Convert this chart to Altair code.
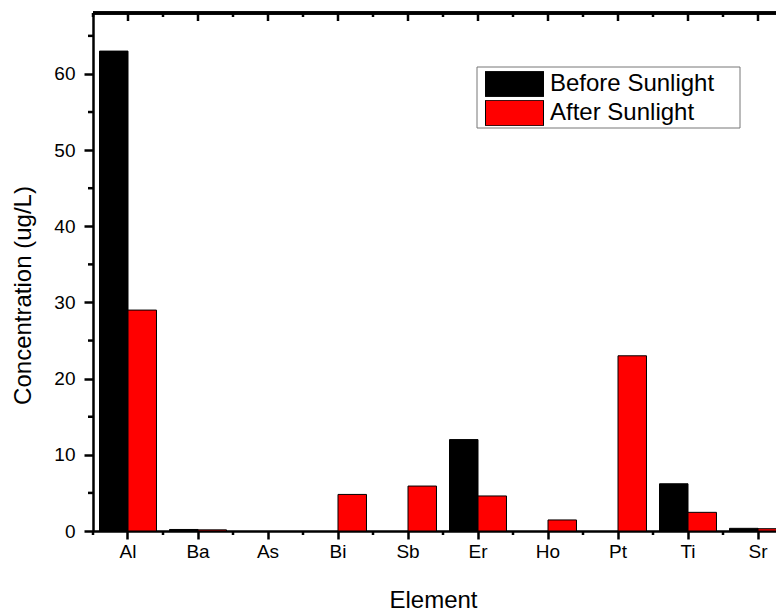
import altair as alt
import pandas as pd

elements = ["Al", "Ba", "As", "Bi", "Sb", "Er", "Ho", "Pt", "Ti", "Sr"]
before_sunlight = [63.0, 0.2, 0.0, 0.0, 0.0, 12.0, 0.0, 0.0, 6.2, 0.35]
after_sunlight = [29.0, 0.15, 0.0, 4.8, 5.9, 4.6, 1.45, 23.0, 2.45, 0.3]
series_names = ["Before Sunlight", "After Sunlight"]
series_colors = ["#000000", "#FF0000"]
y_major = [0, 10, 20, 30, 40, 50, 60]
y_minor = [5, 15, 25, 35, 45, 55, 65]

rows = []
for i, el in enumerate(elements):
    rows.append({"Element": el, "Series": series_names[0], "Value": before_sunlight[i]})
    rows.append({"Element": el, "Series": series_names[1], "Value": after_sunlight[i]})
df = pd.DataFrame(rows)
df_el = pd.DataFrame({"Element": elements})
df_major = pd.DataFrame({"Value": y_major})
df_minor = pd.DataFrame({"Value": y_minor})

FULL_W = 700   # full plot width (right part is cut off by the page edge)
W, H = 683, 518
FONT = "Liberation Sans"
LEG_X, LEG_Y, LEG_W, LEG_H = 384, 54, 263, 61

x_scale = alt.Scale(paddingInner=0.186, paddingOuter=0.093, range=[0, FULL_W])
x_enc = alt.X(
    "Element:N",
    sort=elements,
    scale=x_scale,
    axis=alt.Axis(
        title="Element", labelAngle=0, labelFontSize=19, labelPadding=3,
        labelColor="black", tickSize=8, tickWidth=2.5, tickColor="black",
        domainWidth=2.5, domainColor="black", titleFontSize=24,
        titleFontWeight="normal", titleColor="black", titleX=340, titleY=76,
        titleBaseline="alphabetic", grid=False,
    ),
)
y_scale = alt.Scale(domain=[0, 68], nice=False)
y_enc = alt.Y(
    "Value:Q",
    scale=y_scale,
    axis=alt.Axis(
        title="Concentration (ug/L)", values=y_major, labelFontSize=19,
        labelPadding=9, labelColor="black", tickSize=9, tickWidth=2.5,
        tickColor="black", domainWidth=2.5, domainColor="black",
        titleFontSize=24, titleFontWeight="normal", titleColor="black",
        titleX=-58, titleY=282, grid=False,
    ),
)

legend_box = alt.Chart(df_el.head(1)).mark_rect(
    fill="white", stroke="#777777", strokeWidth=1
).encode(
    x=alt.value(LEG_X), x2=alt.value(LEG_X + LEG_W),
    y=alt.value(LEG_Y), y2=alt.value(LEG_Y + LEG_H),
)

bars = alt.Chart(df).mark_bar(stroke="black", strokeWidth=1).encode(
    x=x_enc,
    xOffset=alt.XOffset("Series:N", sort=series_names),
    y=y_enc,
    color=alt.Color(
        "Series:N",
        scale=alt.Scale(domain=series_names, range=series_colors),
        legend=alt.Legend(
            title=None, orient="none", legendX=LEG_X, legendY=LEG_Y,
            direction="vertical", strokeColor="transparent",
            padding=4, symbolType="M-1,-0.44L1,-0.44L1,0.44L-1,0.44Z",
            symbolSize=3364, symbolStrokeColor="black", symbolStrokeWidth=1,
            symbolOpacity=1, clipHeight=26, rowPadding=3, labelFontSize=24,
            labelOffset=6, symbolOffset=4, labelColor="black", labelLimit=400,
        ),
    ),
).transform_filter("datum.Value > 0")

rule_style = dict(color="black", strokeWidth=2.5)
xr = alt.X("Element:N", sort=elements, scale=x_scale)

top_border = alt.Chart(df_el).mark_rule(**rule_style).encode(
    x=alt.value(0), x2=alt.value(FULL_W), y=alt.value(0))
top_major = alt.Chart(df_el).mark_rule(**rule_style).encode(
    x=xr, y=alt.value(0), y2=alt.value(8))
top_minor = alt.Chart(df_el).mark_rule(xOffset=-35, **rule_style).encode(
    x=xr, y=alt.value(0), y2=alt.value(4))
bottom_minor = alt.Chart(df_el).mark_rule(xOffset=-35, **rule_style).encode(
    x=xr, y=alt.value(H), y2=alt.value(H + 4))
left_minor = alt.Chart(df_minor).mark_rule(**rule_style).encode(
    y=alt.Y("Value:Q", scale=y_scale), x=alt.value(-5), x2=alt.value(0))
right_major = alt.Chart(df_major).mark_rule(**rule_style).encode(
    y=alt.Y("Value:Q", scale=y_scale), x=alt.value(FULL_W - 12), x2=alt.value(FULL_W))
right_minor = alt.Chart(df_minor).mark_rule(**rule_style).encode(
    y=alt.Y("Value:Q", scale=y_scale), x=alt.value(FULL_W - 6), x2=alt.value(FULL_W))

chart = alt.layer(
    legend_box, bars, top_border, top_major, top_minor, bottom_minor,
    left_minor, right_major, right_minor
).properties(
    width=W, height=H,
    autosize=alt.AutoSizeParams(type="none"),
    padding={"left": 85, "top": 5, "right": 0, "bottom": 90},
).configure(
    font=FONT,
).configure_view(
    stroke="transparent",
).configure_axis(
    labelFont=FONT, titleFont=FONT,
).configure_legend(
    labelFont=FONT,
)

chart.save("out.html", embed_options={"renderer": "svg", "actions": False})
